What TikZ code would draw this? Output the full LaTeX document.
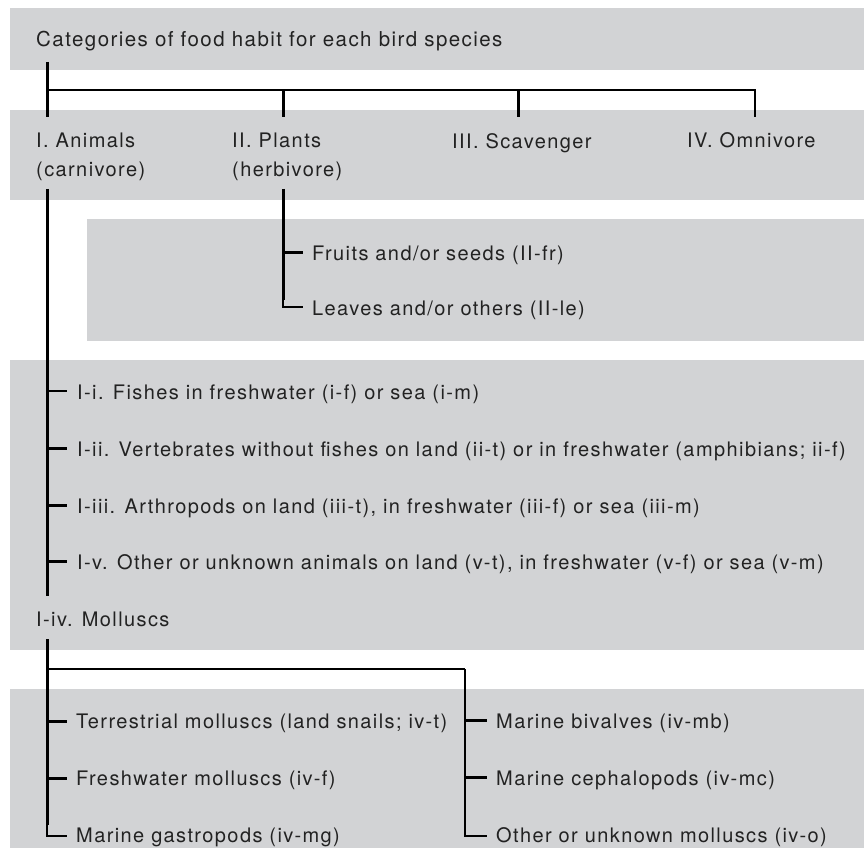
\documentclass[tikz,border=0pt]{standalone}
\usepackage{fontspec}
\setmainfont[LetterSpace=7]{TeX Gyre Heros}
\definecolor{bandgrey}{HTML}{D2D3D5}
\definecolor{txt}{HTML}{222222}
\begin{document}
\begin{tikzpicture}[x=1pt,y=-1pt,
  band/.style={fill=bandgrey, draw=none},
  lbl/.style={anchor=base west, inner sep=0pt, text=txt, font=\fontsize{20}{24}\selectfont},
  ttl/.style={lbl, font=\fontsize{20.5}{24}\selectfont},
  stem/.style={line width=3pt, draw=black},
  twig/.style={line width=2pt, draw=black}]
\useasboundingbox (0,0) rectangle (864,858);
\fill[white] (0,0) rectangle (864,858);
% bands
\fill[band] (10,8) rectangle (864,70);
\fill[band] (10,110) rectangle (864,200);
\fill[band] (87,219) rectangle (864,341);
\fill[band] (10,360) rectangle (864,650);
\fill[band] (10,689) rectangle (864,848);
% labels
\node[ttl] (root) at (36,47) {Categories of food habit for each bird species};
\node[lbl] (anim) at (36,148) {I. Animals};
\node[lbl] (animb) at (36,177) {(carnivore)};
\node[lbl] (plant) at (232,148) {II. Plants};
\node[lbl] (plantb) at (232,177) {(herbivore)};
\node[lbl] (scav) at (452,149) {III. Scavenger};
\node[lbl] (omni) at (687,148) {IV. Omnivore};
\node[lbl] (fr) at (312,261) {Fruits and/or seeds (II-fr)};
\node[lbl] (le) at (312,316) {Leaves and/or others (II-le)};
\node[lbl] (ii) at (77,399) {I-i. Fishes in freshwater (i-f) or sea (i-m)};
\node[lbl] (iii) at (77,456) {I-ii. Vertebrates without fishes on land (ii-t) or in freshwater (amphibians; ii-f)};
\node[lbl] (iiii) at (77,513) {I-iii. Arthropods on land (iii-t), in freshwater (iii-f) or sea (iii-m)};
\node[lbl] (iv) at (77,569) {I-v. Other or unknown animals on land (v-t), in freshwater (v-f) or sea (v-m)};
\node[lbl] (moll) at (36,626) {I-iv. Molluscs};
\node[lbl] (ivt) at (76,728) {Terrestrial molluscs (land snails; iv-t)};
\node[lbl] (ivf) at (76,785) {Freshwater molluscs (iv-f)};
\node[lbl] (ivmg) at (76,842) {Marine gastropods (iv-mg)};
\node[lbl] (ivmb) at (496,728) {Marine bivalves (iv-mb)};
\node[lbl] (ivmc) at (496,785) {Marine cephalopods (iv-mc)};
\node[lbl] (ivo) at (496,842) {Other or unknown molluscs (iv-o)};
% joints
\coordinate (r0) at (47,62);
\coordinate (rh) at (47,90);
\coordinate (a0) at (47,117);
\coordinate (p0) at (283,117);
\coordinate (s0) at (518,117);
\coordinate (o0) at (755,117);
\coordinate (a1) at (47,189);
\coordinate (a2) at (47,596);
\coordinate (p1) at (283,189);
\coordinate (m0) at (47,639);
\coordinate (mh) at (47,669);
\coordinate (mr) at (465,669);
% top tree
\draw[stem] (r0) -- (a0);
\draw[twig] (rh) -| (o0);
\draw[stem] (p0 |- rh) -- (p0);
\draw[stem] (s0 |- rh) -- (s0);
% plants
\draw[stem] (p1) -- (283,300);
\draw[stem] (283,253) -- ([xshift=-9pt,yshift=8pt]fr.base west);
\draw[twig] (283,295) |- ([xshift=-9pt,yshift=9pt]le.base west);
% animals
\draw[stem] (a1) -- (a2);
\draw[twig] (47,391) -- ([xshift=-10pt,yshift=8pt]ii.base west);
\draw[stem] (47,448) -- ([xshift=-10pt,yshift=8pt]iii.base west);
\draw[stem] (47,505) -- ([xshift=-10pt,yshift=8pt]iiii.base west);
\draw[stem] (47,561) -- ([xshift=-10pt,yshift=8pt]iv.base west);
% molluscs
\draw[stem] (m0) -- (mh);
\draw[twig] (mh) -- (mr);
\draw[stem] (mh) -- (47,825);
\draw[stem] (47,721) -- ([xshift=-9pt,yshift=7pt]ivt.base west);
\draw[stem] (47,778) -- ([xshift=-9pt,yshift=7pt]ivf.base west);
\draw[twig] (47,820) |- ([xshift=-9pt,yshift=6pt]ivmg.base west);
\draw[twig] (mr) |- ([xshift=-9pt,yshift=6pt]ivo.base west);
\draw[stem] (465,720) -- ([xshift=-9pt,yshift=8pt]ivmb.base west);
\draw[stem] (465,777) -- ([xshift=-9pt,yshift=8pt]ivmc.base west);
\end{tikzpicture}
\end{document}
